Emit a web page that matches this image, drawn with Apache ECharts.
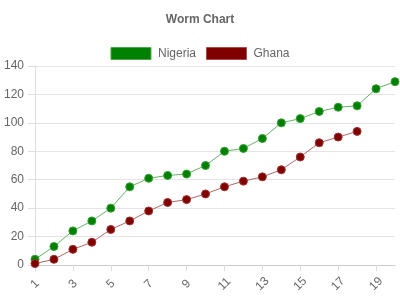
<!DOCTYPE html>
<html>
<head>
<meta charset="utf-8">
<script src="https://cdn.jsdelivr.net/npm/echarts@6/dist/echarts.min.js"></script>
<style>html,body{margin:0;padding:0;background:#fff;}#c{width:400px;height:300px;}</style>
</head>
<body>
<div id="c"></div>
<script>
var categories = ['1','2','3','4','5','6','7','8','9','10','11','12','13','14','15','16','17','18','19','20'];
var nigeria = [4,13,24,31,40,55,61,63,64,70,80,82,89,100,103,108,111,112,124,129];
var ghana = [1,4,11,16,25,31,38,44,46,50,55,59,62,67,76,86,90,94,null,null];
var yTicks = [0,20,40,60,80,100,120,140];

var font = 'Liberation Sans, Arial, Helvetica, sans-serif';
var chart = echarts.init(document.getElementById('c'), null, {renderer:'canvas'});
chart.setOption({
  animation: false,
  backgroundColor: '#fff',
  title: {
    text: 'Worm Chart', left: 'center', top: 9,
    textStyle: {fontFamily: font, fontSize: 12, fontWeight: 'bold', color: '#666'}
  },
  legend: {
    top: 42, left: 'center', itemWidth: 40, itemHeight: 12, itemGap: 10,
    icon: 'rect',
    textStyle: {fontFamily: font, fontSize: 12, color: '#666', padding: [0,0,0,2]},
    data: [
      {name: 'Nigeria', itemStyle: {color: '#008000', borderColor: '#4da64d', borderWidth: 1}},
      {name: 'Ghana', itemStyle: {color: '#800000', borderColor: '#a64d4d', borderWidth: 1}}
    ]
  },
  grid: {left: 35, right: 5, top: 66, bottom: 35, containLabel: false},
  xAxis: {
    type: 'category', data: categories, boundaryGap: false,
    axisLine: {lineStyle: {color: '#ccc'}},
    axisTick: {show: true, interval: 1, length: 6, lineStyle: {color: '#ddd'}},
    axisLabel: {interval: 1, rotate: 45, margin: 19, align: 'center', verticalAlign: 'middle',
      fontFamily: font, fontSize: 12, color: '#666'},
    splitLine: {show: false}
  },
  yAxis: {
    type: 'value', min: yTicks[0], max: yTicks[yTicks.length-1], interval: 20,
    axisLine: {show: true, lineStyle: {color: '#ddd'}},
    axisTick: {show: true, length: 7, lineStyle: {color: '#ddd'}},
    axisLabel: {margin: 11, fontFamily: font, fontSize: 12, color: '#666'},
    splitLine: {lineStyle: {color: '#e5e5e5'}}
  },
  series: [
    {
      name: 'Nigeria', type: 'line', data: nigeria,
      symbol: 'circle', symbolSize: 8,
      lineStyle: {color: '#66b366', width: 1},
      itemStyle: {color: '#008000', borderColor: '#33a033', borderWidth: 1}
    },
    {
      name: 'Ghana', type: 'line', data: ghana,
      symbol: 'circle', symbolSize: 8,
      lineStyle: {color: '#b36666', width: 1},
      itemStyle: {color: '#800000', borderColor: '#a03333', borderWidth: 1}
    }
  ]
});
</script>
</body>
</html>
